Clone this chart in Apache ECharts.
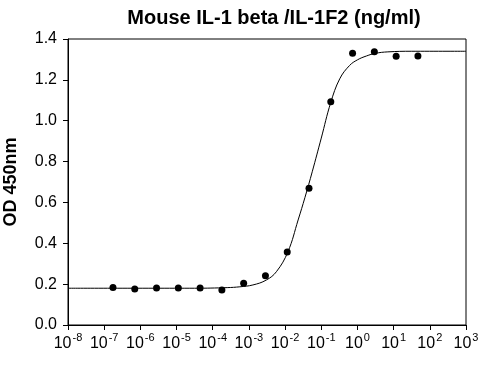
<!DOCTYPE html>
<html>
<head>
<meta charset="utf-8">
<script src="https://cdn.jsdelivr.net/npm/echarts@6/dist/echarts.min.js"></script>
<style>html,body{margin:0;padding:0;background:#fff}#c{width:502px;height:367px}</style>
</head>
<body>
<div id="c"></div>
<script>
// Measured points: log10 of concentration (ng/ml) and OD 450nm
var pointLogConc = [-6.757, -6.155, -5.553, -4.951, -4.349, -3.747, -3.145, -2.543, -1.941, -1.339, -0.737, -0.135, 0.467, 1.069, 1.671];
var pointOD = [0.183, 0.176, 0.181, 0.181, 0.181, 0.171, 0.204, 0.241, 0.357, 0.669, 1.093, 1.330, 1.338, 1.315, 1.317];
// Fitted curve
var curveLogConc = [-8.0, -4.5, -3.6, -3.25, -2.89, -2.52, -2.24, -1.92, -1.64, -1.45, -1.25, -1.0, -0.74, -0.49, -0.22, 0.0, 0.25, 0.5, 0.84, 1.5, 3.0];
var curveOD = [0.180, 0.180, 0.183, 0.187, 0.196, 0.220, 0.261, 0.359, 0.514, 0.625, 0.750, 0.915, 1.088, 1.205, 1.270, 1.298, 1.317, 1.330, 1.337, 1.340, 1.340];
var xTickExponents = [-8, -7, -6, -5, -4, -3, -2, -1, 0, 1, 2, 3];
var yTicks = [0.0, 0.2, 0.4, 0.6, 0.8, 1.0, 1.2, 1.4];
var titleText = 'Mouse IL-1 beta /IL-1F2 (ng/ml)';
var yName = 'OD 450nm';

var chart = echarts.init(document.getElementById('c'));
var font = 'Liberation Sans, Arial, sans-serif';
chart.setOption({
  animation: false,
  title: {
    text: titleText, left: 269, top: 3, textAlign: 'center',
    textStyle: {fontFamily: font, fontSize: 20, fontWeight: 'bold', color: '#000'}
  },
  grid: {left: 68, right: 36, top: 39, bottom: 42, show: true, borderColor: '#000', borderWidth: 1,
         containLabel: false, outerBoundsMode: 'none'},
  xAxis: {
    type: 'value', min: xTickExponents[0], max: xTickExponents[xTickExponents.length - 1], interval: 1,
    axisLine: {onZero: false, lineStyle: {color: '#000', width: 1}},
    axisTick: {show: true, length: 5, lineStyle: {color: '#000'}},
    splitLine: {show: false},
    axisLabel: {
      margin: 7, color: '#000', fontFamily: font,
      formatter: function (v) { return '{b|10}{s|' + v + '}'; },
      rich: {
        b: {fontSize: 16, fontFamily: font, color: '#000', verticalAlign: 'bottom', lineHeight: 20},
        s: {fontSize: 11, fontFamily: font, color: '#000', verticalAlign: 'top', lineHeight: 20, padding: [0, 0, 0, 1]}
      }
    }
  },
  yAxis: {
    type: 'value', min: yTicks[0], max: yTicks[yTicks.length - 1], interval: 0.2,
    name: yName, nameLocation: 'middle', nameGap: 48, nameRotate: 90,
    nameTextStyle: {fontFamily: font, fontSize: 18, fontWeight: 'bold', color: '#000'},
    axisLine: {show: true, onZero: false, lineStyle: {color: '#000', width: 1}},
    axisTick: {show: true, length: 5, lineStyle: {color: '#000'}},
    splitLine: {show: false},
    axisLabel: {
      margin: 11, color: '#000', fontFamily: font, fontSize: 16,
      formatter: function (v) { return v.toFixed(1); }
    }
  },
  series: [
    {
      type: 'line', data: curveLogConc.map(function (x, i) { return [x, curveOD[i]]; }),
      showSymbol: false, smooth: 0.4, lineStyle: {color: '#000', width: 1}, silent: true
    },
    {
      type: 'scatter', data: pointLogConc.map(function (x, i) { return [x, pointOD[i]]; }),
      symbol: 'circle', symbolSize: 7, itemStyle: {color: '#000', opacity: 1}
    }
  ]
});
</script>
</body>
</html>
